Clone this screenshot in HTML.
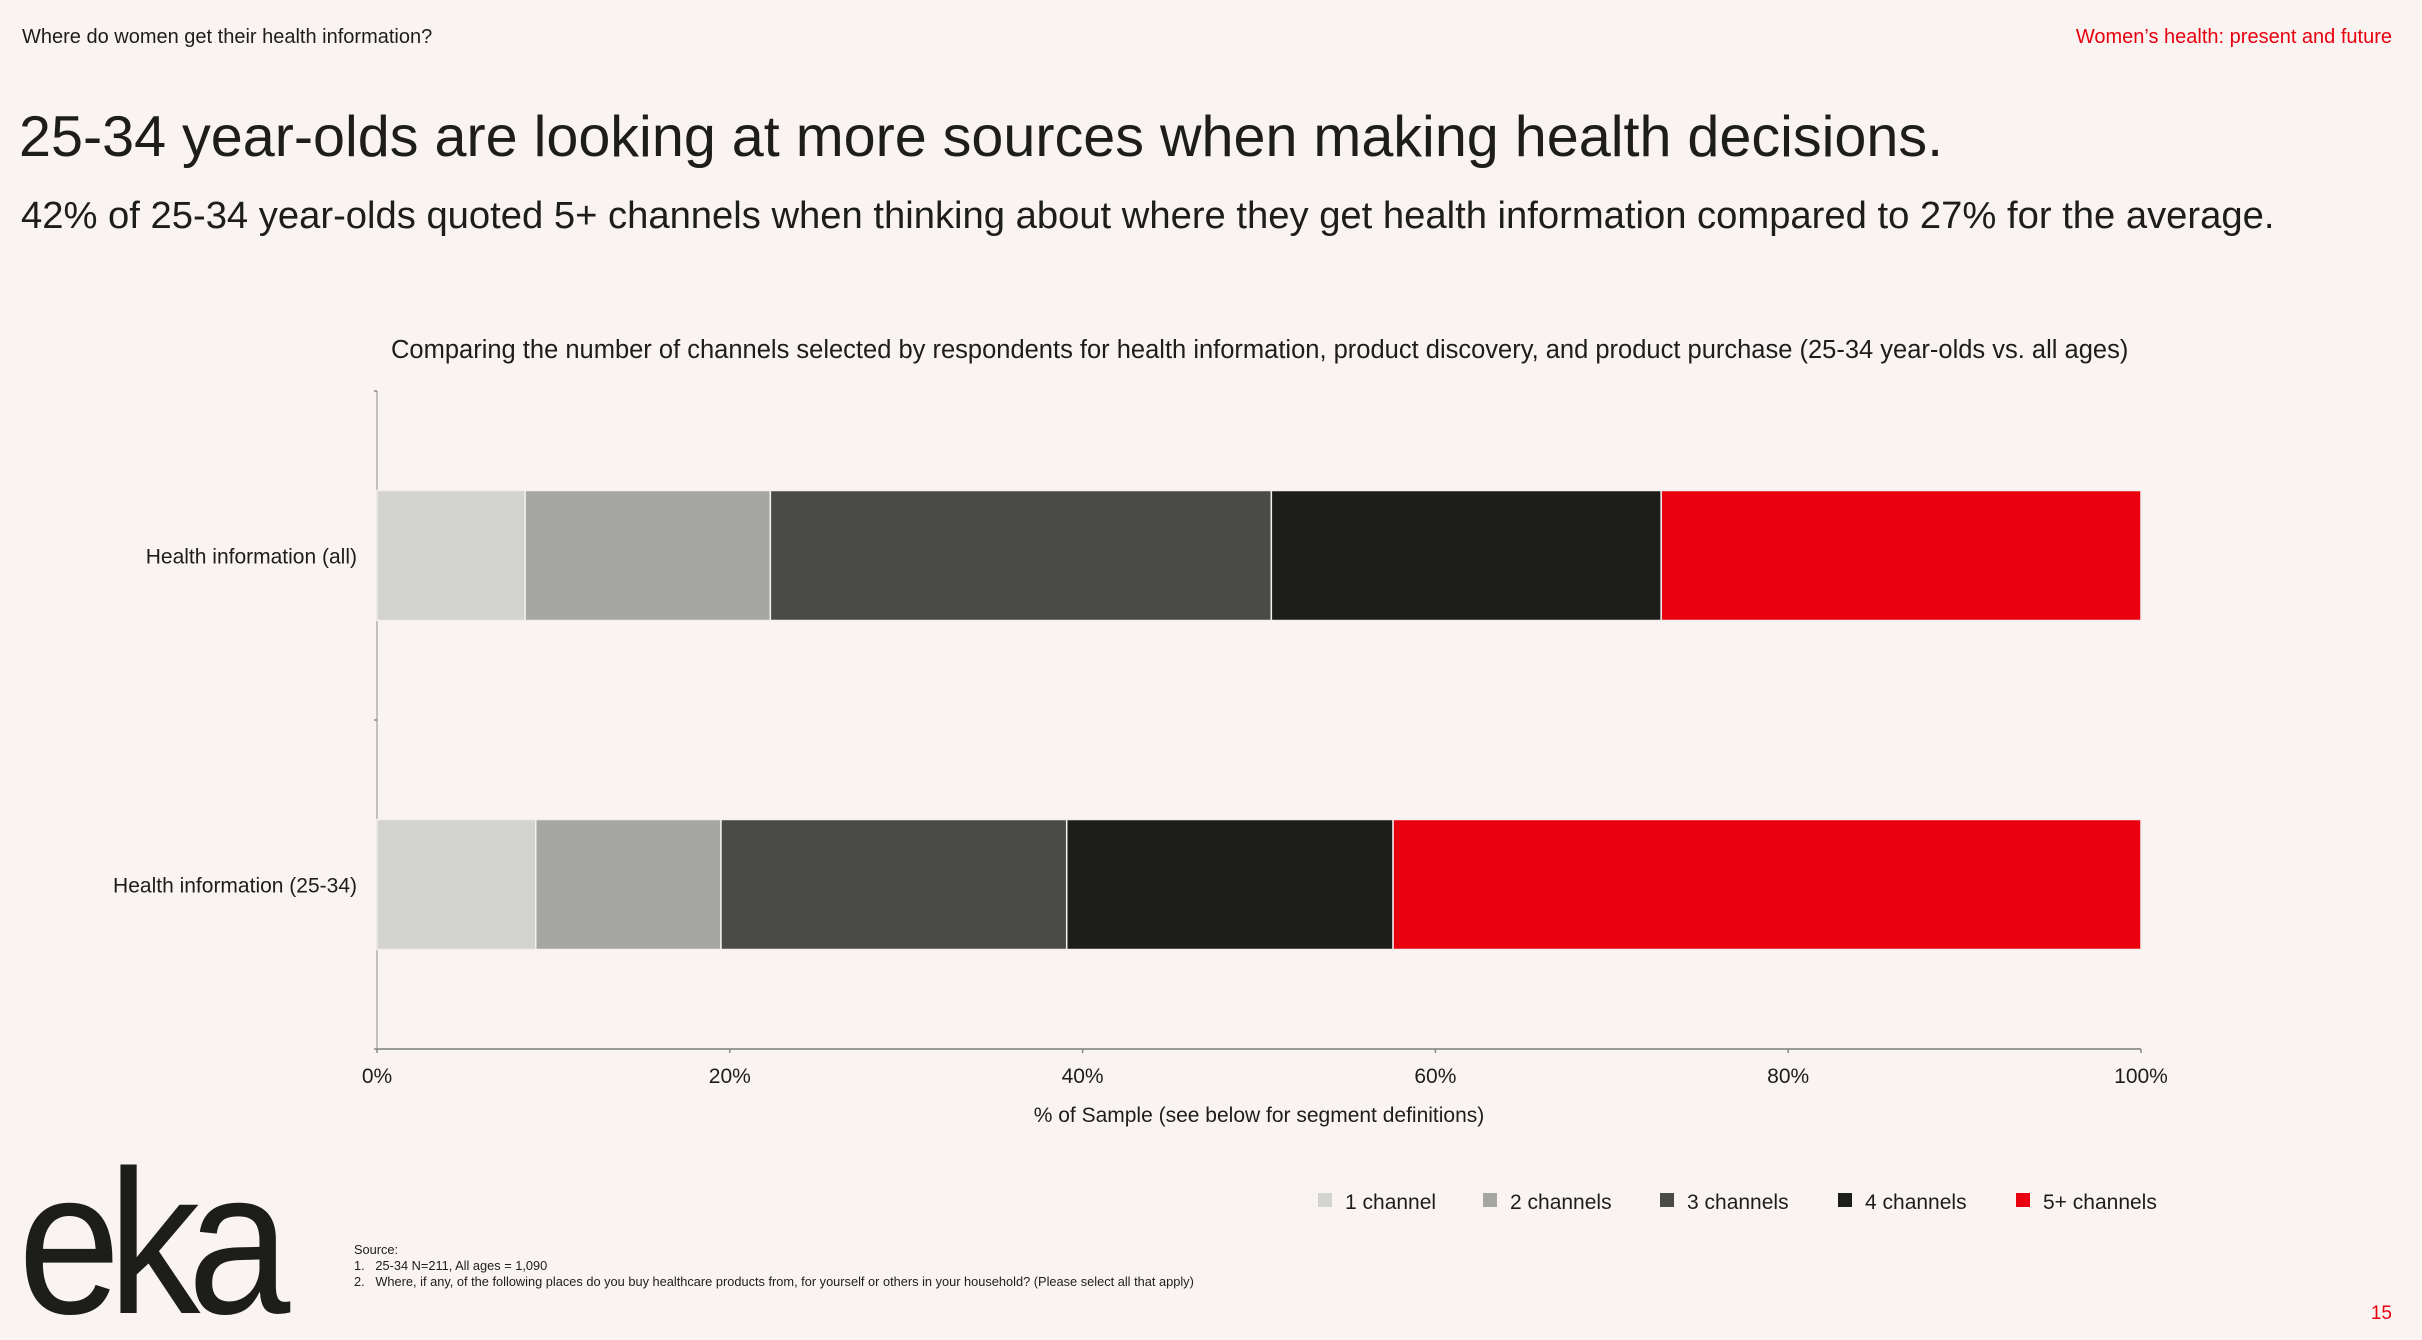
<!DOCTYPE html>
<html><head><meta charset="utf-8"><style>
body{margin:0;background:#f9f4f1;font-family:"Liberation Sans",Arial,sans-serif;color:#1d1d1b}
#page{position:relative;width:2422px;height:1340px;overflow:hidden;background:#f9f4f1}
.t{position:absolute;white-space:nowrap}
</style></head><body>
<div id="page">
<div class="t" style="left:22px;top:26px;font-size:20px">Where do women get their health information?</div>
<div class="t" style="right:30px;top:26px;font-size:20px;color:#e8000f">Women’s health: present and future</div>
<div class="t" style="left:19px;top:104px;font-size:57.5px">25-34 year-olds are looking at more sources when making health decisions.</div>
<div class="t" style="left:21px;top:194px;font-size:38.2px">42% of 25-34 year-olds quoted 5+ channels when thinking about where they get health information compared to 27% for the average.</div>
<div class="t" style="left:391px;top:336px;font-size:25.5px">Comparing the number of channels selected by respondents for health information, product discovery, and product purchase (25-34 year-olds vs. all ages)</div>
<svg id="chart" width="2422" height="1340" style="position:absolute;left:0;top:0"></svg>
<div class="t" style="left:18px;top:1140px;font-size:205px;letter-spacing:-14px;transform:scaleX(0.9);transform-origin:left top;line-height:1">eka</div>
<div class="t" style="left:354px;top:1242px;font-size:12.8px;line-height:16px">Source:<br>1.&nbsp;&nbsp;&nbsp;25-34 N=211, All ages = 1,090<br>2.&nbsp;&nbsp;&nbsp;Where, if any, of the following places do you buy healthcare products from, for yourself or others in your household? (Please select all that apply)</div>
<div class="t" style="right:30px;top:1303px;font-size:19px;color:#e8000f">15</div>
</div>
<script>
const categories=["Health information (all)","Health information (25-34)"];
const seriesNames=["1 channel","2 channels","3 channels","4 channels","5+ channels"];
const s1=[8.4,9.0];
const s2=[13.9,10.5];
const s3=[28.4,19.6];
const s4=[22.1,18.5];
const s5=[27.2,42.4];
const ticks=[0,20,40,60,80,100];
const tickLabels=["0%","20%","40%","60%","80%","100%"];
const colors=["#d3d3d1","#a6a6a4","#4a4a49","#1d1d1b","#e8000f"];
const series=[s1,s2,s3,s4,s5];
const NS="http://www.w3.org/2000/svg";
const svg=document.getElementById('chart');
const X0=377,X1=2141,YT=391,YB=1049;
const x=v=>X0+(X1-X0)*v/100;
const band=(YB-YT)/categories.length;
const y=i=>YT+band*i;
function mk(t,a){const e=document.createElementNS(NS,t);for(const k in a)e.setAttribute(k,a[k]);svg.appendChild(e);return e;}
let e=mk('line',{x1:X0,y1:YT,x2:X0,y2:YB,stroke:'#b0b0b0','stroke-width':1.5});

e=mk('line',{x1:X0,y1:YB,x2:X1,y2:YB,stroke:'#9a9a9a','stroke-width':2});

for(let i=0;i<=categories.length;i++){e=mk('line',{x1:X0-3,y1:y(i),x2:X0,y2:y(i),stroke:'#888','stroke-width':1.5});
}
ticks.forEach((t,i)=>{
 e=mk('line',{x1:x(t),y1:YB,x2:x(t),y2:YB+4,stroke:'#888','stroke-width':1.5});
 
 e=mk('text',{x:x(t),y:YB+34,'text-anchor':'middle','font-size':21,fill:'#1d1d1b'});
 e.textContent=tickLabels[i];
 
});
e=mk('text',{x:(X0+X1)/2,y:1122,'text-anchor':'middle','font-size':21,fill:'#1d1d1b'});
e.textContent="% of Sample (see below for segment definitions)";

const barH=130;
categories.forEach((c,i)=>{
 const cy=y(i)+band/2;
 e=mk('text',{x:357,y:cy+8,'text-anchor':'end','font-size':21,fill:'#1d1d1b'});
 e.textContent=c;
 
 let acc=0;
 series.forEach((s,j)=>{
  e=mk('rect',{x:x(acc),y:cy-barH/2,width:x(acc+s[i])-x(acc),height:barH,fill:colors[j],stroke:'#f3f0ee','stroke-width':1.5});
  
  acc+=s[i];
 });
});
const lx=[1318,1483,1660,1838,2016];
seriesNames.forEach((n,j)=>{
 e=mk('rect',{x:lx[j],y:1193,width:14,height:14,fill:colors[j]});
 
 e=mk('text',{x:lx[j]+27,y:1209,'font-size':21,fill:'#1d1d1b'});
 e.textContent=n;
 
});
</script>
</body></html>
